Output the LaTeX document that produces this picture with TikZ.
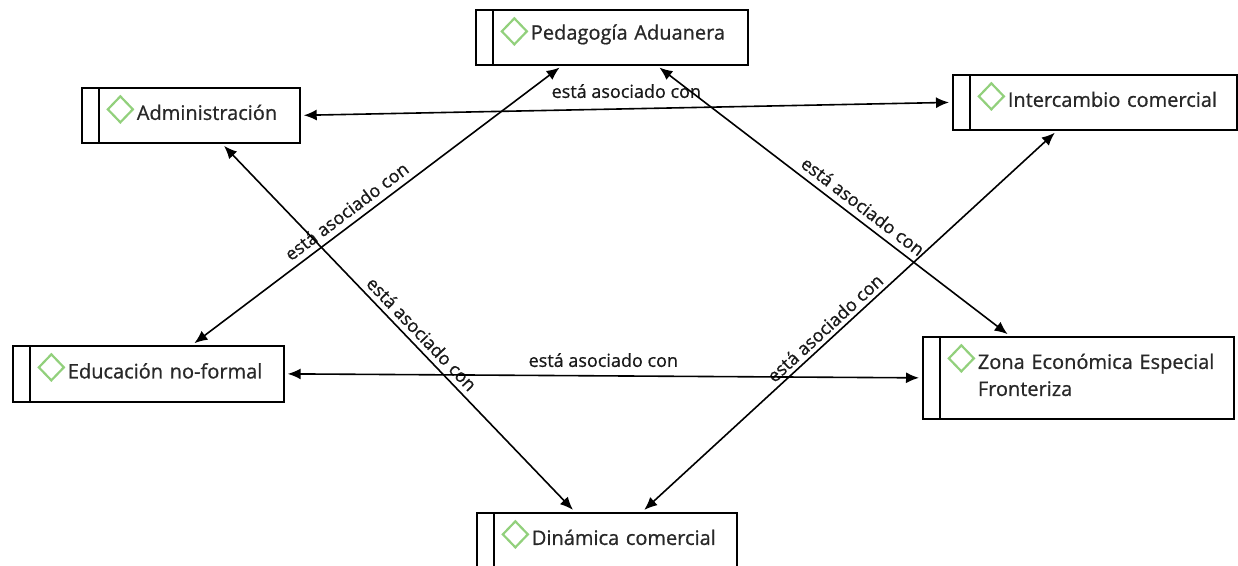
\documentclass[tikz,border=0pt]{standalone}
\usepackage{fontspec}
\setmainfont{Open Sans}[RawFeature={embolden=0.8}]
\usetikzlibrary{arrows.meta}
\definecolor{diamondgreen}{RGB}{146,208,124}
\definecolor{boxtext}{RGB}{40,40,40}
\tikzstyle{line} = [draw, line width=1.6pt, {Latex[length=13pt,width=11pt]}-{Latex[length=13pt,width=11pt]}, shorten <=3pt, shorten >=3pt]
\tikzstyle{concept} = [rectangle, draw, line width=1.7pt, anchor=north west, inner xsep=3pt, inner ysep=0pt, align=left, text=boxtext, font=\fontsize{20}{27}\selectfont, execute at begin node={\leftskip=52pt}, execute at end node={\endgraf\vspace*{6pt}},
	path picture={
		\draw[line width=1.7pt] ([xshift=17pt]path picture bounding box.north west) -- ([xshift=17pt]path picture bounding box.south west);
		\draw[diamondgreen, line width=2.2pt] ([shift={(26pt,-21.5pt)}]path picture bounding box.north west) -- ++(12.5pt,13pt) -- ++(12.5pt,-13pt) -- ++(-12.5pt,-13pt) -- cycle;
	}]
\tikzstyle{assoc} = [font=\fontsize{18}{18}\selectfont, text=black!90, inner sep=2pt]

\begin{document}
\begin{tikzpicture}[x=1pt, y=-1pt]
	\useasboundingbox (0,0) rectangle (1238,565);
	
	\node [concept, text width=266pt, minimum height=55pt] (pedagogia) at (475,9) {Pedagogía Aduanera};
	\node [concept, text width=212pt, minimum height=55pt] (admin) at (81,87) {Administración};
	\node [concept, text width=278pt, minimum height=55pt] (intercambio) at (952,74) {Intercambio comercial};
	\node [concept, text width=265pt, minimum height=56pt] (educacion) at (12,345) {Educación no-formal};
	\node [concept, text width=305pt, minimum height=82pt] (zona) at (922,336) {Zona Económica Especial\\Fronteriza};
	\node [concept, text width=254pt, minimum height=55pt] (dinamica) at (476,512) {Dinámica comercial};
	
	\path [line] (admin.east) -- node [assoc, above=8pt] {está asociado con} (intercambio.west);
	\path [line] ([xshift=180pt]educacion.north west) -- node [assoc, sloped, pos=.44, above=4pt] {está asociado con} ([xshift=87pt]pedagogia.south west);
	\path [line] ([xshift=182pt]pedagogia.south west) -- node [assoc, sloped, pos=.56, above=4pt] {está asociado con} ([xshift=88pt]zona.north west);
	\path [line] ([xshift=141pt]admin.south west) -- node [assoc, sloped, pos=.54, above=3pt] {está asociado con} ([xshift=99pt]dinamica.north west);
	\path [line] ([xshift=166pt]dinamica.north west) -- node [assoc, sloped, pos=.46, above=2pt] {está asociado con} ([xshift=105pt]intercambio.south west);
	\path [line] (educacion.east) -- node [assoc, above=6pt] {está asociado con} (zona.west);
\end{tikzpicture}
\end{document}
